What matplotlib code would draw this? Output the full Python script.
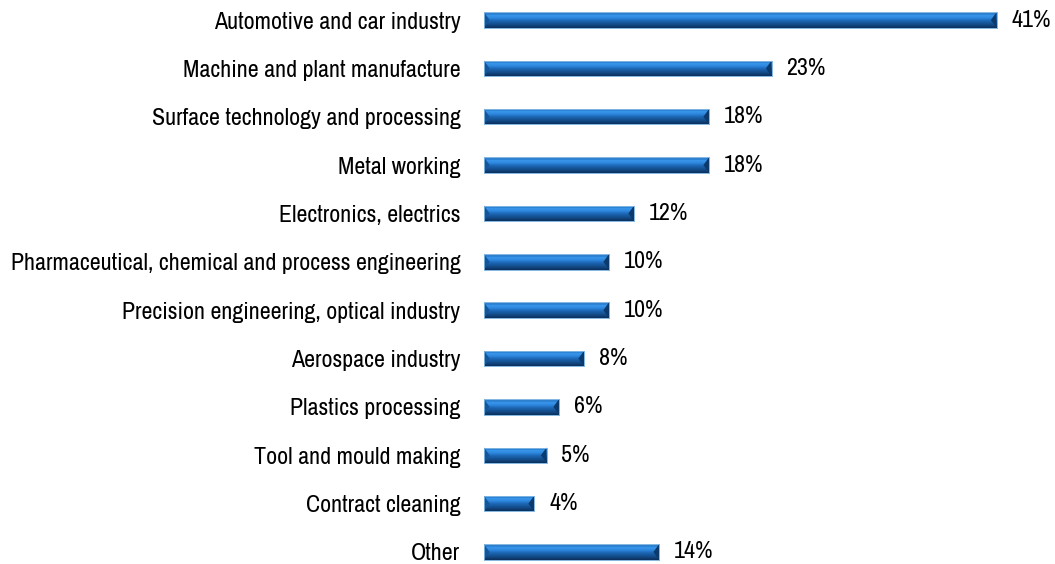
import numpy as np
import matplotlib.pyplot as plt
from matplotlib import font_manager
from matplotlib.colors import LinearSegmentedColormap
from matplotlib.patches import Polygon

# data
categories = ["Automotive and car industry", "Machine and plant manufacture",
              "Surface technology and processing", "Metal working",
              "Electronics, electrics",
              "Pharmaceutical, chemical and process engineering",
              "Precision engineering, optical industry", "Aerospace industry",
              "Plastics processing", "Tool and mould making",
              "Contract cleaning", "Other"]
values = [41, 23, 18, 18, 12, 10, 10, 8, 6, 5, 4, 14]

# pick a narrow font if one is around
names = sorted({f.name for f in font_manager.fontManager.ttflist})
narrow = [n for n in names if 'Condensed' in n or 'Narrow' in n]
fam = narrow[0] if narrow else 'DejaVu Sans'
plt.rcParams['font.family'] = [fam, 'DejaVu Sans']

fig = plt.figure(figsize=(10.55, 5.64), dpi=100)
ax = fig.add_axes([484 / 1055, 0, 556 / 1055, 1])

y = np.arange(len(categories))
h = 0.32
bars = ax.barh(y, values, height=h, color='#1f6fc0', edgecolor='#6aa8dc', linewidth=0.6)

grad = LinearSegmentedColormap.from_list("bevel", [
    (0.0, '#0b2f5c'), (0.2, '#124a86'), (0.45, '#1c66b4'),
    (0.65, '#2f8ae0'), (0.8, '#3a97ea'), (0.9, '#1f72c6'), (1.0, '#7db6e6')])
img = np.linspace(1, 0, 64).reshape(-1, 1)
for b in bars:
    x0, y0 = b.get_x(), b.get_y()
    w, hh = b.get_width(), b.get_height()
    im = ax.imshow(img, cmap=grad, aspect='auto', origin='upper',
                   extent=[x0, x0 + w, y0 + hh, y0], zorder=2)
    im.set_clip_path(b)
    # bevelled ends
    d = 0.45
    ax.add_patch(Polygon([[x0, y0], [x0 + d, y0 + hh / 2], [x0, y0 + hh]],
                         closed=True, color='#14569a', zorder=3, lw=0))
    ax.add_patch(Polygon([[x0 + w, y0], [x0 + w - d, y0 + hh / 2], [x0 + w, y0 + hh]],
                         closed=True, color='#0c3a6c', zorder=3, lw=0))
    ax.add_patch(plt.Rectangle((x0, y0), w, hh, fill=False, ec='#8bbce4', lw=0.6, zorder=4))

fs = 15
for yi, v in zip(y, values):
    ax.text(v + 1.2, yi, f"{v}%", va='center', ha='left', fontsize=fs,
            fontweight='light')

ax.set_xlim(0, 556 / 12.5)
ax.set_ylim(11 + 12 / 48.36, -20 / 48.36)
ax.set_yticks(y)
ax.set_yticklabels(categories, fontsize=fs, fontweight='light')
ax.tick_params(axis='y', length=0, pad=17)
ax.set_xticks([])
for s in ax.spines.values():
    s.set_visible(False)

# scale the font so the longest label spans ~450 px like the reference
fig.canvas.draw()
r = fig.canvas.get_renderer()
wmax = max(t.get_window_extent(r).width for t in ax.get_yticklabels())
fs2 = min(fs * 450 / wmax, 19)
for t in ax.get_yticklabels() + ax.texts:
    t.set_fontsize(fs2)

fig.savefig("out.png", dpi=100)
